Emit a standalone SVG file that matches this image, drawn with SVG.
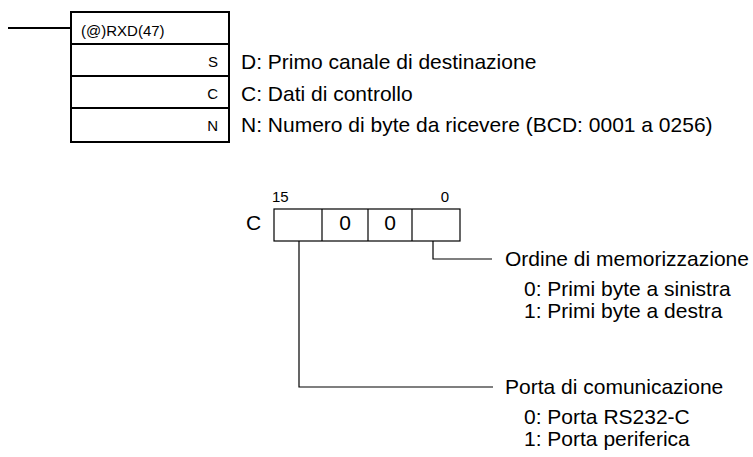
<svg xmlns="http://www.w3.org/2000/svg" width="753" height="457" viewBox="0 0 753 457">
<style>
text{font-family:"Liberation Sans",Arial,sans-serif;fill:#000}
.sm{font-size:15px}
.lg{font-size:21px}
.thick{fill:none;stroke:#000;stroke-width:2}
.thin{fill:none;stroke:#000;stroke-width:1.2}
</style>
<rect width="753" height="457" fill="#fff"/>
<g id="connectors">
<line class="thick" x1="8" y1="28" x2="71" y2="28"/>
<polyline class="thin" points="433,241 433,259 492,259"/>
<polyline class="thin" points="299,241 299,387 493,387"/>
</g>
<g id="instruction-block">
<rect class="thick" x="71" y="12" width="158" height="130"/>
<line class="thick" x1="71" y1="44" x2="229" y2="44"/>
<line class="thick" x1="71" y1="76" x2="229" y2="76"/>
<line class="thick" x1="71" y1="108" x2="229" y2="108"/>
<text class="sm" x="81" y="36">(@)RXD(47)</text>
<text class="sm" x="218" y="67" text-anchor="end">S</text>
<text class="sm" x="218" y="99" text-anchor="end">C</text>
<text class="sm" x="218" y="131" text-anchor="end">N</text>
</g>
<g id="operand-labels">
<text class="lg" x="241" y="69">D: Primo canale di destinazione</text>
<text class="lg" x="241" y="101">C: Dati di controllo</text>
<text class="lg" x="241" y="132">N: Numero di byte da ricevere (BCD: 0001 a 0256)</text>
</g>
<g id="control-word">
<text class="sm" x="272" y="202">15</text>
<text class="sm" x="445" y="202" text-anchor="middle">0</text>
<text class="lg" x="246" y="230">C</text>
<rect class="thin" x="274" y="209" width="186" height="32"/>
<line class="thin" x1="322" y1="209" x2="322" y2="241"/>
<line class="thin" x1="368" y1="209" x2="368" y2="241"/>
<line class="thin" x1="412" y1="209" x2="412" y2="241"/>
<text class="lg" x="345" y="230" text-anchor="middle">0</text>
<text class="lg" x="390" y="230" text-anchor="middle">0</text>
</g>
<g id="storage-order">
<text class="lg" x="505" y="266">Ordine di memorizzazione</text>
<text class="lg" x="524" y="296">0: Primi byte a sinistra</text>
<text class="lg" x="524" y="318">1: Primi byte a destra</text>
</g>
<g id="comm-port">
<text class="lg" x="505" y="394">Porta di comunicazione</text>
<text class="lg" x="524" y="424">0: Porta RS232-C</text>
<text class="lg" x="524" y="446">1: Porta periferica</text>
</g>
</svg>
